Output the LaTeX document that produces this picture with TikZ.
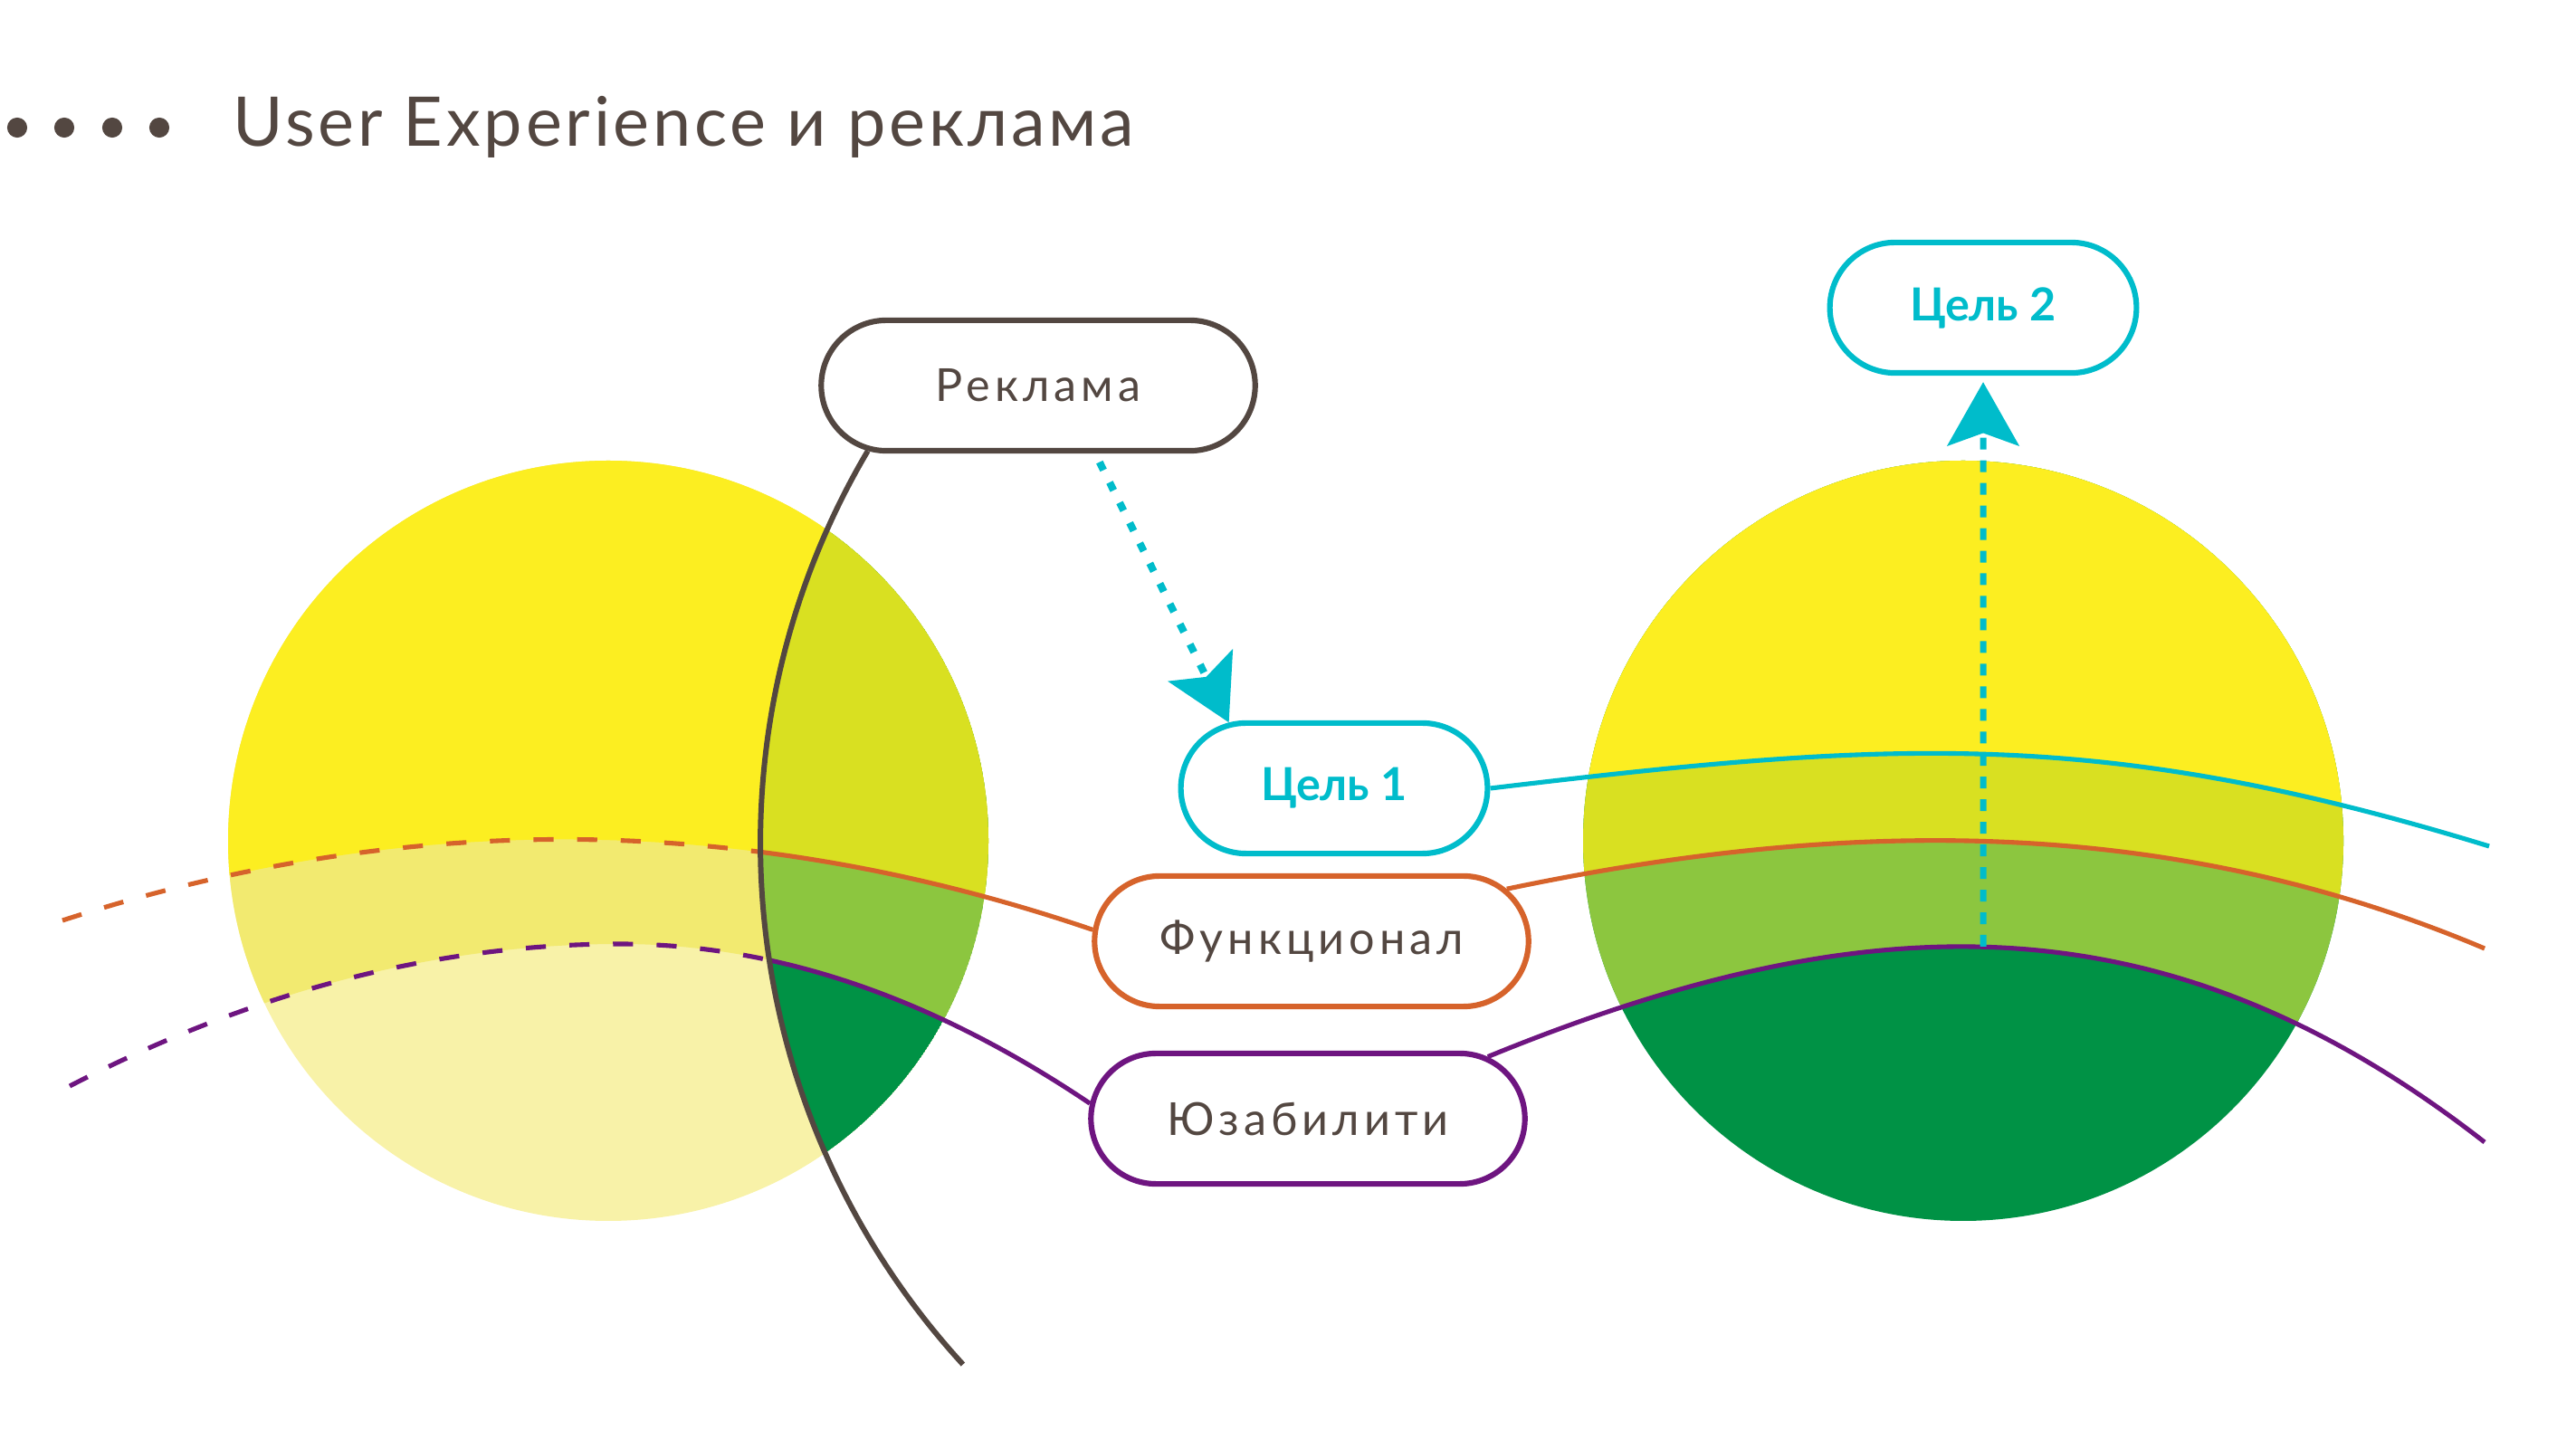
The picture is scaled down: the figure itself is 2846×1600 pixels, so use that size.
\documentclass[tikz,border=0pt]{standalone}
\usepackage{fontspec}
\setmainfont{Lato}
\usetikzlibrary{arrows.meta,positioning,shapes.misc}

\definecolor{uxbrown}{HTML}{534741}
\definecolor{uxcyan}{HTML}{00BCCB}
\definecolor{uxorange}{HTML}{D6632B}
\definecolor{uxpurple}{HTML}{6E1580}
\definecolor{uxyellow}{HTML}{FCEE21}
\definecolor{uxpale}{HTML}{F2EA70}
\definecolor{uxpaler}{HTML}{F8F2A8}
\definecolor{uxlime}{HTML}{D9E021}
\definecolor{uxgreen}{HTML}{8CC63F}
\definecolor{uxdark}{HTML}{009245}

% the three layer lines
\newcommand{\orangeleft}{(oStart) .. controls (448,706) and (828,702) .. (funk.177)}
\newcommand{\purpleleft}{(pStart) .. controls (280,505) and (482,557) .. (pPeak) .. controls (858,557) and (1030,498) .. (yuz.176)}
\newcommand{\cyanright}{(cel1.east) .. controls (2090,782) and (2320,797) .. (cEnd)}
\newcommand{\orangeright}{(funk.15) .. controls (2038,696) and (2395,700) .. (oEnd)}
\newcommand{\purpleright}{(yuz.19) .. controls (2058,602) and (2390,615) .. (pEnd)}

\begin{document}
\begin{tikzpicture}[x=0.01cm, y=0.01cm, every node/.style={text=uxbrown}, pill/.style={draw, rounded rectangle, line width=1.75pt, minimum height=41pt, font=\fontsize{14.3}{17}\selectfont\addfontfeatures{LetterSpace=10}}, wide/.style={pill, minimum width=143pt}, goal/.style={pill, draw=uxcyan, text=uxcyan, minimum width=103pt, font=\fontsize{14.3}{17}\selectfont\bfseries}, dot/.style={circle, fill=uxbrown, inner sep=0pt, minimum size=6.3pt}, lyr/.style={line width=1.45pt}, tip/.style={-{Stealth[length=20pt, width=22.5pt, inset=4pt]}, uxcyan}]
\useasboundingbox (0,0) rectangle (2846,1600);
\node[dot] (d1) at (19,1459) {}; \node[dot] (d2) at (71,1459) {}; \node[dot] (d3) at (124,1459) {}; \node[dot] (d4) at (176,1459) {};
\node[anchor=base west, font=\fontsize{21.5}{26}\selectfont\addfontfeatures{LetterSpace=5}] (title) at (245,1438) {User Experience и реклама};
\node[wide, draw=uxbrown] (rek) at (1147,1174) {Реклама};
\node[goal] (cel2) at (2191,1260) {Цель 2};
\node[goal] (cel1) at (1474,729) {Цель 1};
\node[wide, draw=uxorange] (funk) at (1449,560) {Функционал};
\node[wide, draw=uxpurple] (yuz) at (1445,364) {Юзабилити};
\coordinate (oStart) at (69,583); \coordinate (pStart) at (77,400); \coordinate (pPeak) at (685,557);
\coordinate (cEnd) at (2750,665); \coordinate (oEnd) at (2745,552); \coordinate (pEnd) at (2745,338);
\coordinate (useTop) at (2191,554);
% left circle, split by the ad line
\fill[uxpaler] (672,671) circle (420);
\begin{scope}
\clip (672,671) circle (420);
\fill[uxpale] \purpleleft -- (1203,1200) -- (77,1200) -- cycle;
\fill[uxyellow] \orangeleft -- (1207,1200) -- (69,1200) -- cycle;
\clip (1690,670) circle (852);
\fill[uxdark] (672,671) circle (420);
\fill[uxgreen] \purpleleft -- (1203,1200) -- (77,1200) -- cycle;
\fill[uxlime] \orangeleft -- (1207,1200) -- (69,1200) -- cycle;
\end{scope}
% right circle
\fill[uxdark] (2169,671) circle (420);
\begin{scope}
\clip (2169,671) circle (420);
\fill[uxgreen] \purpleright -- (2745,1200) -- (1641,1200) -- cycle;
\fill[uxlime] \orangeright -- (2745,1200) -- (1667,1200) -- cycle;
\fill[uxyellow] \cyanright -- (2750,1200) -- (1643,1200) -- cycle;
\end{scope}
\draw[lyr, uxcyan] \cyanright; \draw[lyr, uxorange] \orangeright; \draw[lyr, uxpurple] \purpleright;
\begin{scope}
\clip (1690,670) circle (852);
\draw[lyr, uxorange] \orangeleft; \draw[lyr, uxpurple] \purpleleft;
\end{scope}
\begin{scope}[even odd rule]
\clip (0,0) rectangle (2846,1600) (1690,670) circle (852);
\draw[lyr, uxorange, dash pattern=on 6.3pt off 7.4pt] \orangeleft; \draw[lyr, uxpurple, dash pattern=on 6.3pt off 7.4pt] \purpleleft;
\end{scope}
\draw[uxbrown, line width=1.7pt] (rek.201) arc[start angle=149.4, end angle=222.5, radius=852];
\draw[tip, line width=2.3pt, dash pattern=on 2.8pt off 4.3pt, shorten <=3pt] (rek.310) -- (cel1.148);
\draw[tip, line width=2pt, dash pattern=on 3.7pt off 3.4pt, shorten >=2pt] (useTop) -- (cel2);
\end{tikzpicture}
\end{document}
